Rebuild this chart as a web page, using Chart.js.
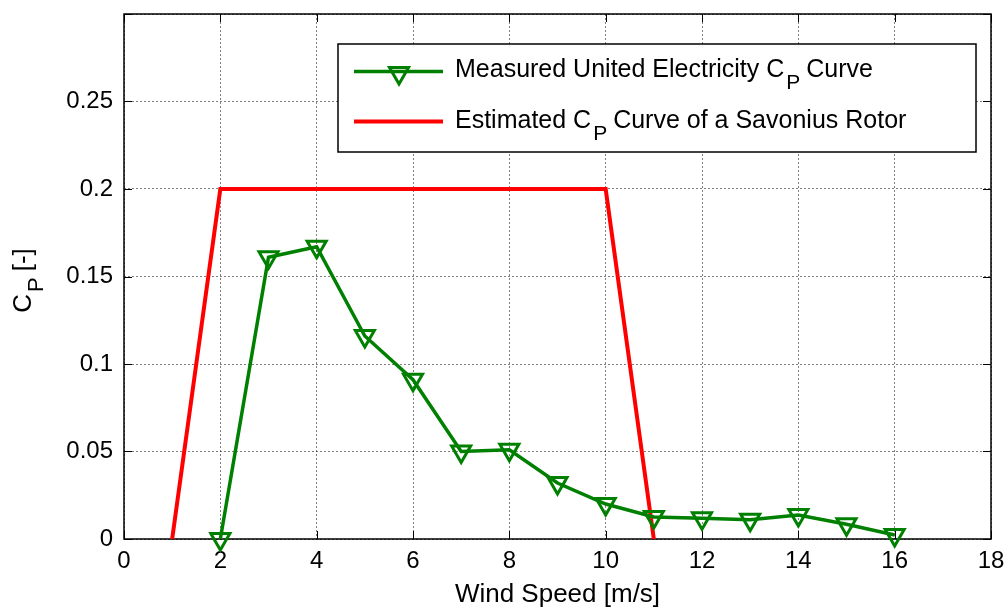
<!DOCTYPE html>
<html>
<head>
<meta charset="utf-8">
<script src="https://cdn.jsdelivr.net/npm/chart.js@4"></script>
<style>
  body { margin: 0; background: #fff; }
</style>
</head>
<body>
<canvas id="cpChart" width="1008" height="608"></canvas>
<script>
// Measured curve
const windSpeed = [2, 3, 4, 5, 6, 7, 8, 9, 10, 11, 12, 13, 14, 15, 16];
const measuredCp = [0, 0.161, 0.167, 0.116, 0.091, 0.05, 0.051, 0.032, 0.02, 0.0126, 0.0118, 0.011, 0.0137, 0.0084, 0.0023];

// Estimated Savonius curve
const rotorSpeed = [1, 2, 10, 11];
const rotorCp = [0, 0.2, 0.2, 0];

// Axis ticks
const xTicks = [0, 2, 4, 6, 8, 10, 12, 14, 16, 18];
const yTicks = [0, 0.05, 0.1, 0.15, 0.2, 0.25, 0.3];
const yTickLabels = ["0", "0.05", "0.1", "0.15", "0.2", "0.25", ""];

const FONT = "Liberation Sans, Arial, sans-serif";
const GREEN = "#008000";
const RED = "#ff0000";

// draw text with subscripts, parts = [[text, isSub], ...]
function richWidth(ctx, parts, size) {
  let w = 0;
  parts.forEach(([t, sub]) => {
    ctx.font = (sub ? size - 4 : size) + "px " + FONT;
    w += ctx.measureText(t).width + (sub ? 8 : 0);
  });
  return w;
}
function drawRich(ctx, parts, x, y, size) {
  parts.forEach(([t, sub]) => {
    ctx.font = (sub ? size - 4 : size) + "px " + FONT;
    if (sub) {
      x += 2;
      ctx.fillText(t, x, y + 12);
      x += ctx.measureText(t).width + 6;
    } else {
      ctx.fillText(t, x, y);
      x += ctx.measureText(t).width;
    }
  });
}

function downTriangle(ctx, x, y, r) {
  ctx.beginPath();
  for (let i = 0; i < 3; i++) {
    const a = Math.PI + (i * 2 * Math.PI) / 3;
    const px = x + Math.sin(a) * r;
    const py = y - Math.cos(a) * r;
    if (i === 0) ctx.moveTo(px, py);
    else ctx.lineTo(px, py);
  }
  ctx.closePath();
  ctx.stroke();
}

// box, inward ticks, y title and legend
const matlabAxes = {
  id: "matlabAxes",
  beforeDatasetsDraw(chart) {
    const { ctx, chartArea: a, scales } = chart;
    ctx.save();
    ctx.strokeStyle = "#000";
    ctx.lineWidth = 1.5;
    ctx.strokeRect(a.left, a.top, a.right - a.left, a.bottom - a.top);
    ctx.beginPath();
    xTicks.forEach((v) => {
      const px = Math.round(scales.x.getPixelForValue(v)) + 0.5;
      ctx.moveTo(px, a.bottom);
      ctx.lineTo(px, a.bottom - 8);
      ctx.moveTo(px, a.top);
      ctx.lineTo(px, a.top + 8);
    });
    yTicks.forEach((v) => {
      const py = Math.round(scales.y.getPixelForValue(v)) + 0.5;
      ctx.moveTo(a.left, py);
      ctx.lineTo(a.left + 8, py);
      ctx.moveTo(a.right, py);
      ctx.lineTo(a.right - 8, py);
    });
    ctx.lineWidth = 1;
    ctx.stroke();
    ctx.restore();
  },
  afterDraw(chart) {
    const { ctx, chartArea: a } = chart;
    ctx.save();
    ctx.fillStyle = "#000";
    ctx.textBaseline = "alphabetic";

    // y axis title
    const yParts = [["C", false], ["P", true], ["[-]", false]];
    const w = richWidth(ctx, yParts, 26);
    ctx.translate(31, (a.top + a.bottom) / 2 + 4 + w / 2);
    ctx.rotate(-Math.PI / 2);
    drawRich(ctx, yParts, 0, 0, 26);
    ctx.restore();

    // legend
    ctx.save();
    ctx.fillStyle = "#fff";
    ctx.fillRect(338, 44, 638, 108);
    ctx.strokeStyle = "#000";
    ctx.lineWidth = 1.5;
    ctx.strokeRect(338, 44, 638, 108);

    ctx.lineWidth = 3.5;
    ctx.strokeStyle = GREEN;
    ctx.beginPath();
    ctx.moveTo(354, 71.5);
    ctx.lineTo(443, 71.5);
    ctx.stroke();
    ctx.lineWidth = 3;
    downTriangle(ctx, 399, 73, 11);

    ctx.lineWidth = 4;
    ctx.strokeStyle = RED;
    ctx.beginPath();
    ctx.moveTo(354, 121.5);
    ctx.lineTo(443, 121.5);
    ctx.stroke();

    ctx.fillStyle = "#000";
    drawRich(ctx, [["Measured United Electricity C", false], ["P", true], ["Curve", false]], 455, 77, 25);
    drawRich(ctx, [["Estimated C", false], ["P", true], ["Curve of a Savonius Rotor", false]], 455, 128, 25);
    ctx.restore();
  },
};

new Chart(document.getElementById("cpChart"), {
  type: "line",
  data: {
    datasets: [
      {
        label: "Measured United Electricity CP Curve",
        data: windSpeed.map((v, i) => ({ x: v, y: measuredCp[i] })),
        borderColor: GREEN,
        borderWidth: 3.5,
        pointStyle: "triangle",
        pointRotation: 180,
        pointRadius: 11,
        pointHoverRadius: 11,
        pointBorderWidth: 3,
        pointBorderColor: GREEN,
        pointBackgroundColor: "rgba(0,0,0,0)",
        tension: 0,
        clip: false,
      },
      {
        label: "Estimated CP Curve of a Savonius Rotor",
        data: rotorSpeed.map((v, i) => ({ x: v, y: rotorCp[i] })),
        borderColor: RED,
        borderWidth: 4,
        pointRadius: 0,
        tension: 0,
        clip: false,
      },
    ],
  },
  options: {
    responsive: false,
    animation: false,
    layout: {
      padding: { top: 14, right: 17, left: 0, bottom: 0 },
    },
    plugins: {
      legend: { display: false },
      tooltip: { enabled: false },
    },
    scales: {
      x: {
        type: "linear",
        min: 0,
        max: 18,
        afterBuildTicks: (scale) => {
          scale.ticks = xTicks.map((v) => ({ value: v }));
        },
        afterFit: (scale) => {
          scale.height = 69;
          scale.paddingLeft = 0;
          scale.paddingRight = 0;
        },
        grid: {
          color: "rgba(0,0,0,0.5)",
          drawTicks: false,
        },
        border: { display: false, dash: [2, 2] },
        ticks: {
          autoSkip: false,
          maxRotation: 0,
          padding: 8,
          color: "#000",
          font: { family: FONT, size: 24 },
          callback: (value) => String(value),
        },
        title: {
          display: true,
          text: "Wind Speed [m/s]",
          color: "#000",
          font: { family: FONT, size: 26 },
          padding: { top: 0, bottom: -2 },
        },
      },
      y: {
        min: 0,
        max: 0.3,
        afterBuildTicks: (scale) => {
          scale.ticks = yTicks.map((v) => ({ value: v }));
        },
        afterFit: (scale) => {
          scale.width = 124;
          scale.paddingTop = 0;
          scale.paddingBottom = 0;
        },
        grid: {
          color: "rgba(0,0,0,0.5)",
          drawTicks: false,
        },
        border: { display: false, dash: [2, 2] },
        ticks: {
          autoSkip: false,
          padding: 11,
          color: "#000",
          font: { family: FONT, size: 24 },
          callback: (value, index) => yTickLabels[index],
        },
      },
    },
  },
  plugins: [matlabAxes],
});
</script>
</body>
</html>
